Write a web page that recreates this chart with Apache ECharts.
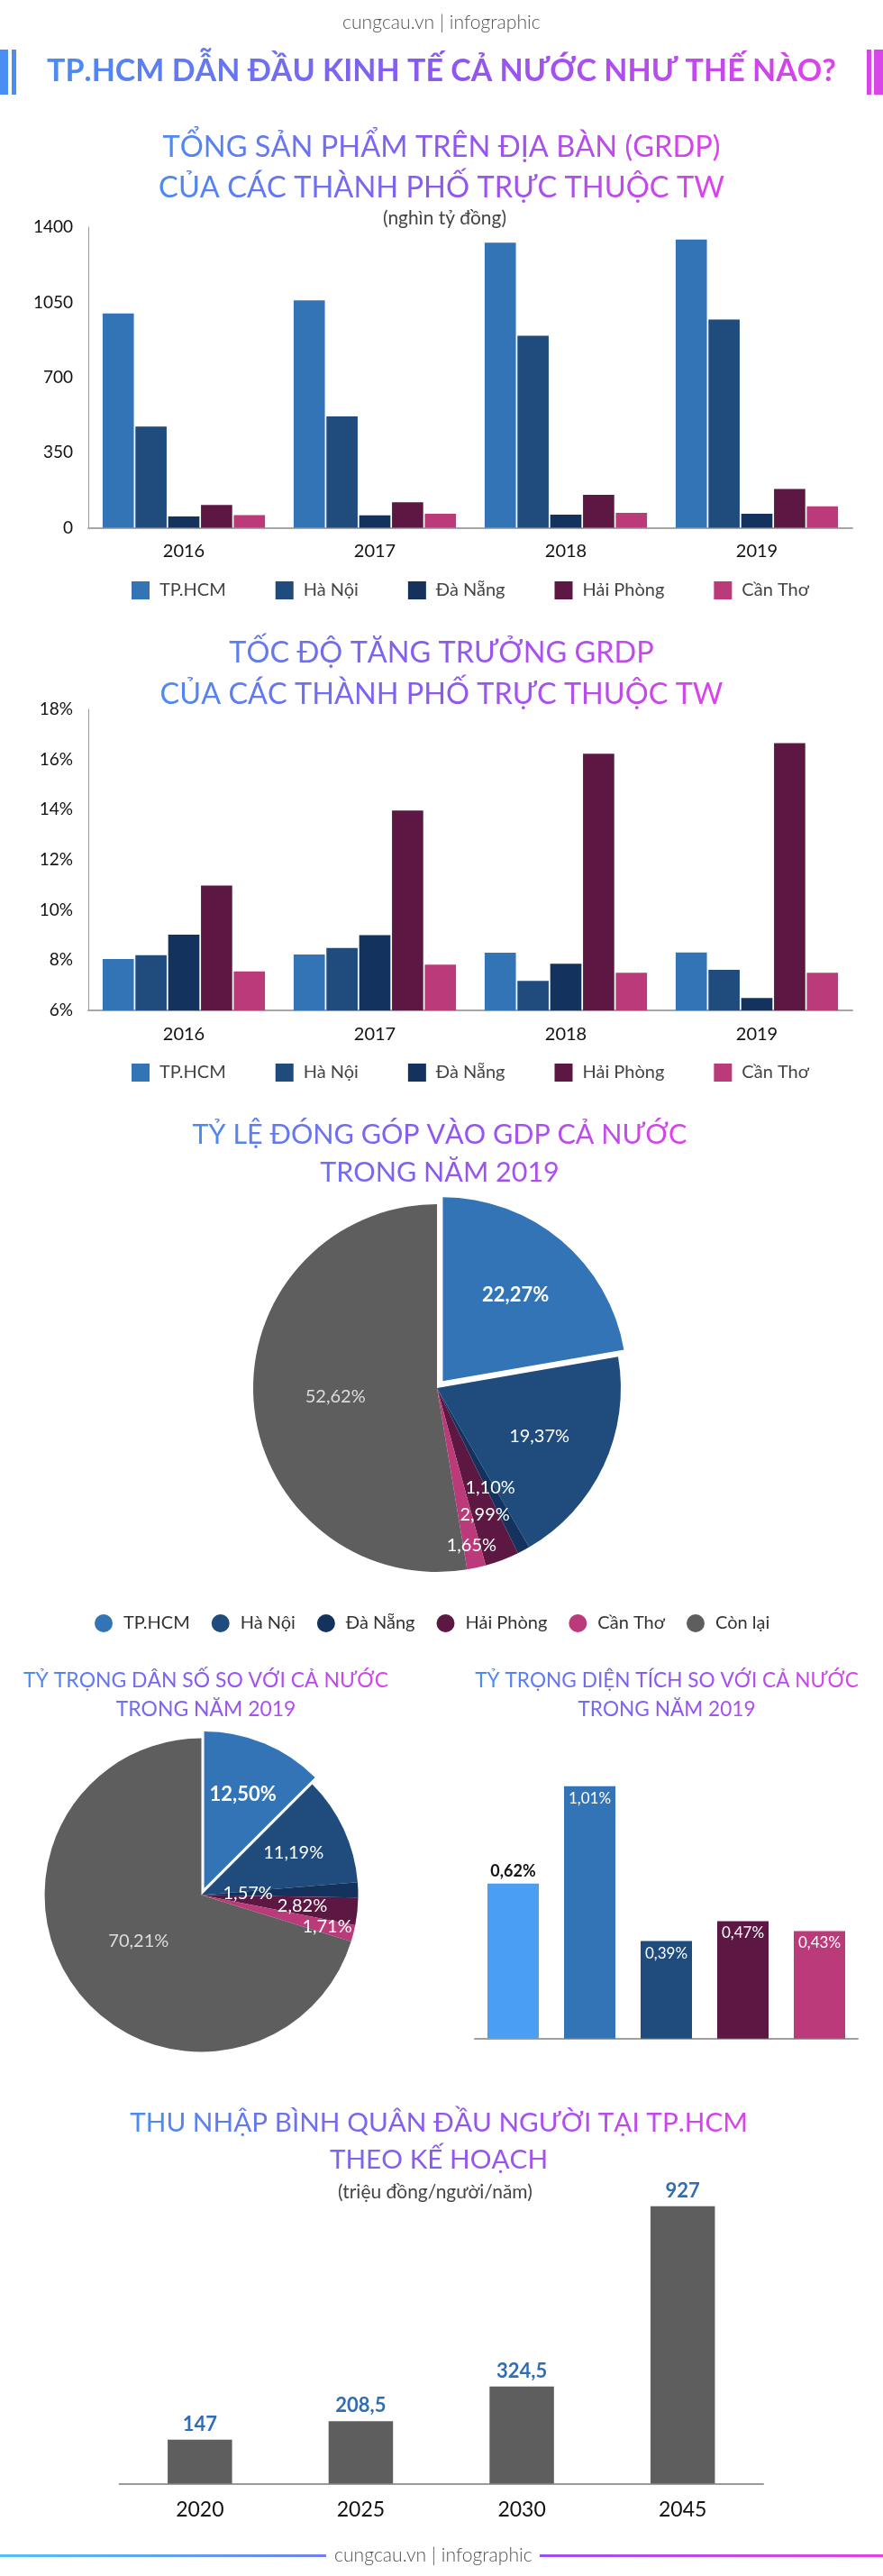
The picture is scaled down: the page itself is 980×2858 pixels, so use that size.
<!DOCTYPE html>
<html><head><meta charset="utf-8">
<script src="https://cdn.jsdelivr.net/npm/echarts@6/dist/echarts.min.js"></script>
<style>html,body{margin:0;padding:0;background:#fff}#c{width:980px;height:2858px}</style>
</head><body><div id="c"></div>
<script>
// ---------------- DATA ----------------
const years = ['2016', '2017', '2018', '2019'];
const cities = ['TP.HCM', 'Hà Nội', 'Đà Nẵng', 'Hải Phòng', 'Cần Thơ'];
const grdpTicks = [0, 350, 700, 1050, 1400];
const grdpHCM = [998, 1059, 1328, 1342];
const grdpHaNoi = [471, 518, 894, 970];
const grdpDaNang = [52, 58, 61, 65];
const grdpHaiPhong = [106, 119, 153, 181];
const grdpCanTho = [59, 65, 69, 100];
const growthTicks = [6, 8, 10, 12, 14, 16, 18];
const growthHCM = [8.05, 8.23, 8.30, 8.31];
const growthHaNoi = [8.20, 8.49, 7.18, 7.62];
const growthDaNang = [9.02, 9.00, 7.86, 6.49];
const growthHaiPhong = [10.98, 13.97, 16.23, 16.65];
const growthCanTho = [7.55, 7.82, 7.50, 7.50];
const shareNames = ['TP.HCM', 'Hà Nội', 'Đà Nẵng', 'Hải Phòng', 'Cần Thơ', 'Còn lại'];
const gdpShareValues = [22.27, 19.37, 1.10, 2.99, 1.65, 52.62];
const popShareValues = [12.50, 11.19, 1.57, 2.82, 1.71, 70.21];
const areaNames = ['TP.HCM', 'Hà Nội', 'Đà Nẵng', 'Hải Phòng', 'Cần Thơ'];
const areaShareValues = [0.62, 1.01, 0.39, 0.47, 0.43];
const incomeYears = ['2020', '2025', '2030', '2045'];
const incomeValues = [147, 208.5, 324.5, 927];

// ---------------- STYLE ----------------
const FAM = 'Lato, "Open Sans", sans-serif';
const cityColors = ['#3274b6', '#1f4c7c', '#13335e', '#5c1842', '#bb3a7a'];
const shareColors = ['#3274b6', '#1f4c7c', '#13335e', '#5c1842', '#bb3a7a', '#5e5e5e'];
const areaColors = ['#4a9ff5', '#3274b6', '#1f4c7c', '#5c1842', '#bb3a7a'];

const mctx = document.createElement('canvas').getContext('2d');
function tw(s, size, weight) { mctx.font = weight + ' ' + size + 'px ' + FAM; return mctx.measureText(s).width; }
function charsW(s, size, weight) { return Array.from(s).reduce((a, c) => a + tw(c, size, weight), 0); }
const STOPS = [[0, [74, 140, 242]], [0.5, [140, 88, 240]], [1, [221, 66, 234]]];
function gcol(t) {
  t = Math.max(0, Math.min(1, t));
  for (let i = 1; i < STOPS.length; i++) {
    if (t <= STOPS[i][0]) {
      const a = STOPS[i - 1], b = STOPS[i];
      const u = (t - a[0]) / (b[0] - a[0]);
      return 'rgb(' + a[1].map((v, k) => Math.round(v + (b[1][k] - v) * u)).join(',') + ')';
    }
  }
  return 'rgb(' + STOPS[STOPS.length - 1][1].join(',') + ')';
}
let seq = 0;
function gradBlock(lines, cx, cys, targetW, weight) {
  lines = lines.map(l => l.normalize('NFC'));
  const base = Math.max(...lines.map(l => charsW(l, 100, weight)));
  const size = 100 * targetW / base;
  const boxL = cx - targetW / 2;
  const lh = Math.round(size * 1.25);
  return lines.map((ln, i) => {
    const chars = Array.from(ln);
    const w = charsW(ln, size, weight);
    let x = cx - w / 2;
    const rich = {}; let text = '';
    chars.forEach((ch, k) => {
      const cw = tw(ch, size, weight);
      const key = 'g' + seq + '_' + k;
      rich[key] = { color: gcol((x + cw / 2 - boxL) / targetW), fontSize: size, fontWeight: weight, fontFamily: FAM, lineHeight: lh };
      text += '{' + key + '|' + ch + '}';
      x += cw;
    });
    seq++;
    return { left: cx - w / 2, top: cys[i] - lh / 2, padding: 0, itemGap: 0, text: text,
      textStyle: { fontSize: size, fontWeight: weight, fontFamily: FAM, lineHeight: lh, rich: rich } };
  });
}
function plainTitle(text, cx, cy, targetW, weight, color) {
  const size = 100 * targetW / tw(text, 100, weight);
  const lh = Math.round(size * 1.25);
  return { left: cx - targetW / 2, top: cy - lh / 2, padding: 0, text: text,
    textStyle: { fontSize: size, fontWeight: weight, fontFamily: FAM, color: color, lineHeight: lh } };
}

const titles = [].concat(
  [plainTitle('cungcau.vn | infographic', 490, 25, 220, '300', '#555')],
  gradBlock(['TP.HCM DẪN ĐẦU KINH TẾ CẢ NƯỚC NHƯ THẾ NÀO?'], 490, [79], 876, '700'),
  gradBlock(['TỔNG SẢN PHẨM TRÊN ĐỊA BÀN (GRDP)', 'CỦA CÁC THÀNH PHỐ TRỰC THUỘC TW'], 490, [163.5, 208], 628, '400'),
  [plainTitle('(nghìn tỷ đồng)', 493.5, 242, 137, '400', '#444')],
  gradBlock(['TỐC ĐỘ TĂNG TRƯỞNG GRDP', 'CỦA CÁC THÀNH PHỐ TRỰC THUỘC TW'], 490, [725, 771], 625, '400'),
  gradBlock(['TỶ LỆ ĐÓNG GÓP VÀO GDP CẢ NƯỚC', 'TRONG NĂM 2019'], 488, [1259, 1301], 549, '400'),
  gradBlock(['TỶ TRỌNG DÂN SỐ SO VỚI CẢ NƯỚC', 'TRONG NĂM 2019'], 228.5, [1865, 1897], 405, '400'),
  gradBlock(['TỶ TRỌNG DIỆN TÍCH SO VỚI CẢ NƯỚC', 'TRONG NĂM 2019'], 740, [1865, 1897], 426, '400'),
  gradBlock(['THU NHẬP BÌNH QUÂN ĐẦU NGƯỜI TẠI TP.HCM', 'THEO KẾ HOẠCH'], 487, [2355, 2396], 686, '400'),
  [plainTitle('(triệu đồng/người/năm)', 483, 2432, 216, '400', '#444')],
  [plainTitle('cungcau.vn | infographic', 481, 2835, 220, '300', '#555')]
);

const LG = echarts.graphic.LinearGradient;
const deco = [
  { type: 'rect', shape: { x: 0, y: 55, width: 9, height: 50 }, style: { fill: '#4b8ef3' } },
  { type: 'rect', shape: { x: 13, y: 55, width: 5, height: 50 }, style: { fill: '#4b8ef3' } },
  { type: 'rect', shape: { x: 962, y: 55, width: 5, height: 50 }, style: { fill: '#d846ea' } },
  { type: 'rect', shape: { x: 970, y: 55, width: 10, height: 50 }, style: { fill: '#d846ea' } },
  { type: 'rect', shape: { x: 0, y: 2834, width: 362, height: 3 }, style: { fill: new LG(0, 0, 1, 0, [{ offset: 0, color: '#52c2f2' }, { offset: 1, color: '#6f80f2' }]) } },
  { type: 'rect', shape: { x: 599, y: 2834, width: 381, height: 3 }, style: { fill: new LG(0, 0, 1, 0, [{ offset: 0, color: '#9a50f0' }, { offset: 1, color: '#e43fe9' }]) } }
];

function pct(v) { return v.toFixed(2).replace('.', ',') + '%'; }

const barLegend = (top) => ({
  data: cities, left: 141, top: top, itemWidth: 20, itemHeight: 20, itemGap: 55, icon: 'rect',
  selectedMode: false,
  textStyle: { fontSize: 20, color: '#444', fontFamily: FAM, padding: [0, 0, 0, 6] }
});

function groupBars(axis, arrs) {
  return arrs.map((arr, i) => ({
    name: cities[i], type: 'bar', xAxisIndex: axis, yAxisIndex: axis, data: arr,
    barCategoryGap: '15%', barGap: '5%', itemStyle: { color: cityColors[i] }, silent: true
  }));
}

// pie + label rings
function pieSeries(values, center, R, offset, groups, boldIdx) {
  const main = {
    type: 'pie', center: center, radius: R, startAngle: 90, clockwise: true,
    selectedMode: 'single', selectedOffset: offset, silent: true, avoidLabelOverlap: false,
    label: { show: false }, labelLine: { show: false },
    data: values.map((v, i) => ({ name: shareNames[i], value: v, selected: i === 0, itemStyle: { color: shareColors[i] } }))
  };
  const rings = groups.map(g => {
    const f = g.frac;
    const radius = f >= 0.5 ? [(2 * f - 1) * R, R] : [0, 2 * f * R];
    return {
      type: 'pie', center: center, radius: radius, startAngle: 90, clockwise: true,
      selectedMode: 'single', selectedOffset: offset, silent: true, avoidLabelOverlap: false,
      labelLine: { show: false },
      label: { show: true, position: 'inside', formatter: p => pct(p.value), fontFamily: FAM, fontSize: 20, color: '#fff' },
      data: values.map((v, i) => ({
        name: shareNames[i], value: v, selected: i === 0,
        itemStyle: { color: 'rgba(0,0,0,0)' },
        label: g.idx.indexOf(i) >= 0 ? (i === boldIdx ? { show: true, fontWeight: 'bold', fontSize: 22 } : (i === 5 ? { show: true, color: '#dddddd' } : { show: true })) : { show: false }
      }))
    };
  });
  return [main].concat(rings);
}

const series = [].concat(
  groupBars(0, [grdpHCM, grdpHaNoi, grdpDaNang, grdpHaiPhong, grdpCanTho]),
  groupBars(1, [growthHCM, growthHaNoi, growthDaNang, growthHaiPhong, growthCanTho]),
  pieSeries(gdpShareValues, [485, 1540], 204, 10,
    [{ frac: 0.6, idx: [0, 1, 2] }, { frac: 0.54, idx: [5] }, { frac: 0.72, idx: [3] }, { frac: 0.86, idx: [4] }], 0),
  pieSeries(popShareValues, [223.5, 2102.5], 174, 8,
    [{ frac: 0.63, idx: [0, 1, 3] }, { frac: 0.28, idx: [2] }, { frac: 0.81, idx: [4] }, { frac: 0.48, idx: [5] }], 0),
  [{
    type: 'bar', name: 'Diện tích', xAxisIndex: 2, yAxisIndex: 2, barWidth: 57, silent: true,
    data: areaShareValues.map((v, i) => ({
      value: v, itemStyle: { color: areaColors[i] },
      label: i === 0 ? { position: 'top', color: '#111', fontWeight: 'bold', fontSize: 18, distance: 5 } : {}
    })),
    label: { show: true, position: 'insideTop', distance: 5, color: '#fff', fontSize: 17, fontFamily: FAM, formatter: p => pct(p.value) }
  },
  {
    type: 'bar', name: 'Thu nhập', xAxisIndex: 3, yAxisIndex: 3, barWidth: 71.5, silent: true,
    data: incomeValues, itemStyle: { color: '#5e5e5e' },
    label: { show: true, position: 'top', distance: 6, color: '#2f6db5', fontWeight: 'bold', fontSize: 22, fontFamily: FAM,
      formatter: p => String(p.value).replace('.', ',') }
  }]
);

const catAxis = (gi, data, extra) => Object.assign({
  type: 'category', gridIndex: gi, data: data,
  axisLine: { lineStyle: { color: '#a6a6a6', width: 2 } }, axisTick: { show: false },
  axisLabel: { fontSize: 20, color: '#111', margin: 16, fontFamily: FAM }
}, extra || {});

const option = {
  animation: false,
  backgroundColor: '#ffffff',
  title: titles,
  graphic: { elements: deco },
  legend: [
    barLegend(640),
    barLegend(1175),
    { data: shareNames, left: 100, top: 1786, itemWidth: 20, itemHeight: 20, itemGap: 24, icon: 'circle', selectedMode: false,
      textStyle: { fontSize: 20, color: '#333', fontFamily: FAM, padding: [0, 0, 0, 7] } }
  ],
  grid: [
    { left: 98, top: 252, width: 848, height: 333.5 },
    { left: 98, top: 787, width: 848, height: 334 },
    { left: 527, top: 1929, width: 425, height: 332.7 },
    { left: 132.5, top: 2423.5, width: 714.5, height: 332 }
  ],
  xAxis: [
    catAxis(0, years),
    catAxis(1, years, { axisLabel: { fontSize: 20, color: '#111', margin: 17, fontFamily: FAM } }),
    catAxis(2, areaNames, { axisLabel: { show: false }, axisLine: { lineStyle: { color: '#a0a0a0', width: 2 } } }),
    catAxis(3, incomeYears, { axisLine: { lineStyle: { color: '#9a9a9a', width: 2 } }, axisLabel: { fontSize: 23, color: '#111', margin: 18, fontFamily: FAM } })
  ],
  yAxis: [
    { type: 'value', gridIndex: 0, min: grdpTicks[0], max: grdpTicks[grdpTicks.length - 1], interval: grdpTicks[1] - grdpTicks[0],
      axisLine: { show: true, lineStyle: { color: '#9a9a9a', width: 1 } }, axisTick: { show: false }, splitLine: { show: false },
      axisLabel: { fontSize: 19, color: '#111', margin: 17, fontFamily: FAM, formatter: v => String(v) } },
    { type: 'value', gridIndex: 1, min: growthTicks[0], max: growthTicks[growthTicks.length - 1], interval: growthTicks[1] - growthTicks[0],
      axisLine: { show: true, lineStyle: { color: '#9a9a9a', width: 1 } }, axisTick: { show: false }, splitLine: { show: false },
      axisLabel: { fontSize: 19, color: '#111', margin: 17, fontFamily: FAM, formatter: '{value}%' } },
    { type: 'value', gridIndex: 2, show: false, min: 0, max: 1.2 },
    { type: 'value', gridIndex: 3, show: false, min: 0, max: 1000 }
  ],
  series: series
};

const chart = echarts.init(document.getElementById('c'), null, { renderer: 'canvas', width: 980, height: 2858 });
chart.setOption(option);
</script>
</body></html>
